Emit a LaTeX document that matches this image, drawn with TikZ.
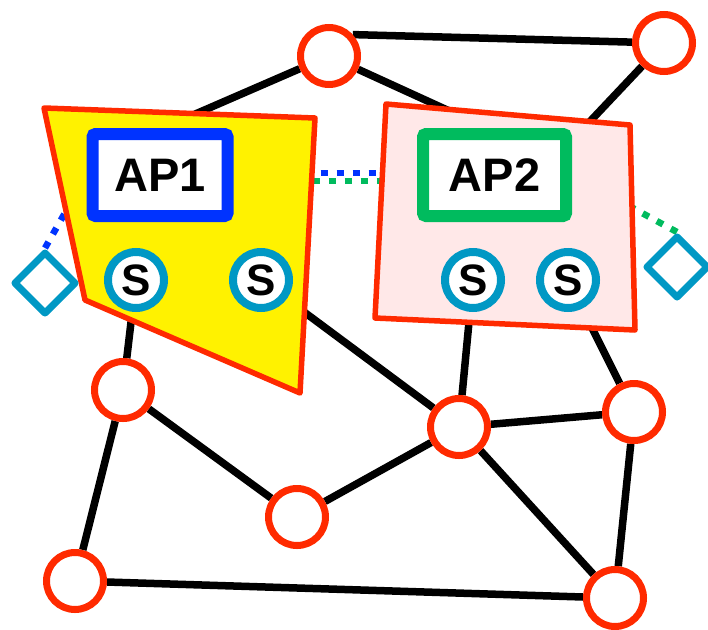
\documentclass[tikz,border=0pt]{standalone}
\usepackage{fontspec}
\setmainfont{Liberation Sans}
\usetikzlibrary{shapes.geometric}
\pgfdeclarelayer{bg}
\pgfsetlayers{bg,main}
\definecolor{rred}{HTML}{FF2A00}
\definecolor{tealc}{HTML}{0098C4}
\definecolor{apblue}{HTML}{0033FF}
\definecolor{apgreen}{HTML}{00BB5E}
\definecolor{pinkf}{HTML}{FFE8E8}
\begin{document}
\begin{tikzpicture}[x=1pt,y=-1pt,
  router/.style={circle,draw=rred,line width=7pt,fill=white,minimum size=57pt,inner sep=0pt},
  srv/.style={circle,draw=tealc,line width=8pt,fill=white,minimum size=56pt,inner sep=0pt,font=\fontsize{44}{44}\selectfont\bfseries},
  apbox/.style={rectangle,rounded corners=3pt,line width=12pt,fill=white,inner sep=0pt,font=\fontsize{47}{47}\selectfont\bfseries},
  region/.style={draw=rred,line width=5.5pt,line join=round},
  link/.style={line width=7.5pt,draw=black},
  radio/.style={diamond,draw=tealc,line width=7pt,line join=round,fill=white,minimum width=63pt,minimum height=63pt,inner sep=0pt},
  wl/.style={line width=6.5pt,dash pattern=on 7pt off 9pt}]
\useasboundingbox (0,0) rectangle (708,629);

% regions
\draw[region,fill=yellow] (44,108) -- (315,118) -- (300,393) -- (85,300) -- cycle;
\draw[region,fill=pinkf] (386,104) -- (630,125) -- (635,330) -- (375,318) -- cycle;

% access points
\node[apbox,draw=apblue,minimum width=135pt,minimum height=82pt] (AP1) at (160,175) {AP1};
\node[apbox,draw=apgreen,minimum width=143pt,minimum height=82pt] (AP2) at (494.5,175) {AP2};

% servers
\node[srv] (S1) at (136,280) {S};
\node[srv] (S2) at (261,280) {S};
\node[srv] (S3) at (473,280) {S};
\node[srv] (S4) at (568,280) {S};

% routers
\node[router] (N1) at (329,56) {};
\node[router] (N2) at (664,43) {};
\node[router] (N3) at (123,390) {};
\node[router] (N4) at (459,427) {};
\node[router] (N5) at (634,412) {};
\node[router] (N6) at (297,517) {};
\node[router] (N7) at (75,581) {};
\node[router] (N8) at (615,598) {};

% radios
\node[radio] (D1) at (45,283) {};
\node[radio] (D2) at (677,267) {};

% hidden ends
\coordinate (h1) at (170,125);
\coordinate (h2) at (480,125);
\coordinate (h3) at (580,132);
\coordinate (h4) at (95,160);

\begin{pgfonlayer}{bg}
\draw[link] (N1.42) -- (N2);
\draw[link] (N1) -- (h1);
\draw[link] (N1) -- (h2);
\draw[link] (N2) -- (h3);
\draw[link] (S1) -- (N3);
\draw[link] (S2) -- (N4);
\draw[link] (S3) -- (N4);
\draw[link] (S4) -- (N5);
\draw[link] (N3) -- (N6);
\draw[link] (N3) -- (N7);
\draw[link] (N6) -- (N4);
\draw[link] (N4) -- (N5);
\draw[link] (N4) -- (N8);
\draw[link] (N5) -- (N8);
\draw[link] (N7) -- (N8);
\draw[wl,draw=apblue,dash phase=9pt] ([yshift=2pt]AP1.east) -- ([yshift=2pt]AP2.west);
\draw[wl,draw=apgreen,dash phase=1pt] ([yshift=-6pt]AP1.east) -- ([yshift=-6pt]AP2.west);
\draw[wl,draw=apblue] (D1.north) -- (h4);
\draw[wl,draw=apgreen] (D2.north) -- (AP2.east);
\end{pgfonlayer}
\end{tikzpicture}
\end{document}
